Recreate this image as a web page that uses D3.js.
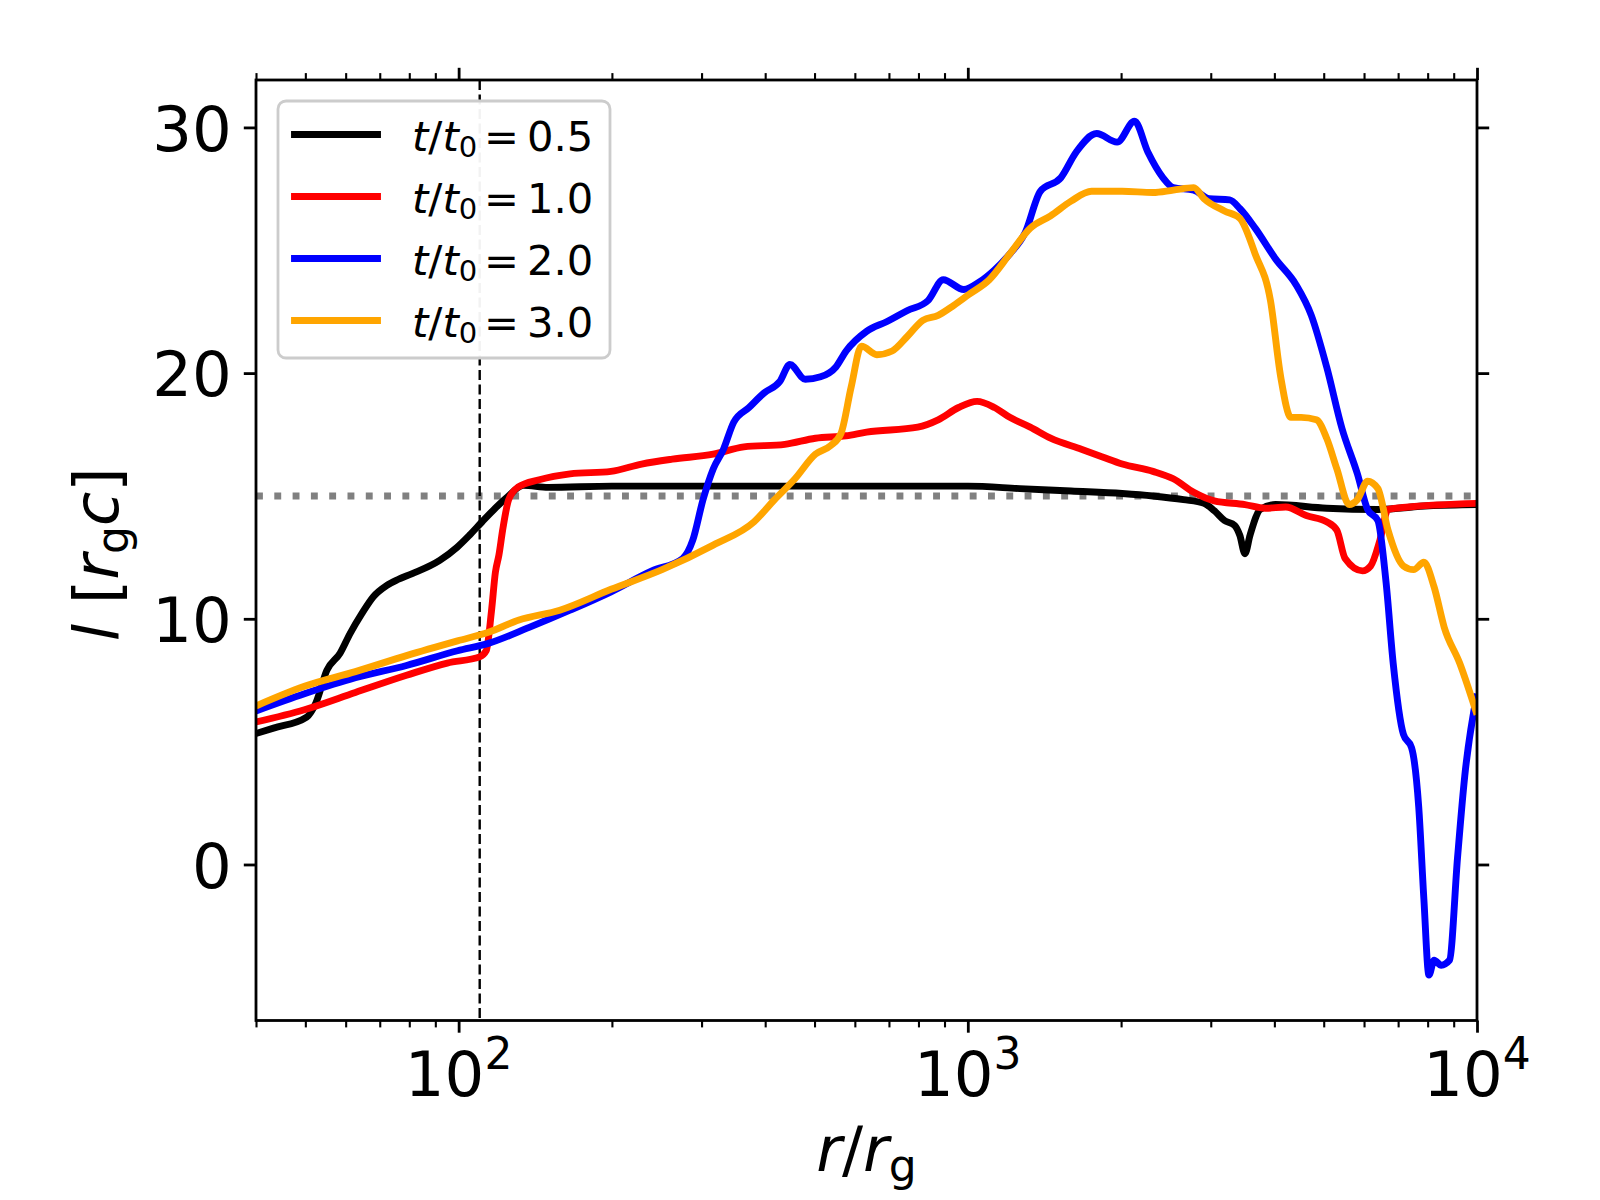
<!DOCTYPE html>
<html>
<head>
<meta charset="utf-8">
<script src="https://cdn.jsdelivr.net/npm/d3@7"></script>
<style>
  body { margin: 0; background: #fff; }
  text { font-family: "DejaVu Sans", sans-serif; }
</style>
</head>
<body>
<div id="chart"></div>
<script>

// angular momentum profiles l(r)
var r05 = [40, 43.3, 50.3, 52.5, 55.1, 58.5, 61.2, 64.5, 68.0, 72.3, 76, 81.1, 91.8, 99.4, 105, 111.1, 118, 124.6, 134, 150,
           200, 316, 500, 800, 1000, 1266, 1595, 2010, 2310, 2652, 2910, 3047, 3192, 3343, 3421, 3502, 3583, 3753, 4021, 5067,
           6387, 8047, 10000];
var l05 = [5.33, 5.55, 6.0, 6.6, 7.9, 8.6, 9.4, 10.2, 10.9, 11.36, 11.6, 11.84, 12.38, 12.92, 13.4, 13.94, 14.5, 14.95, 15.43, 15.35,
           15.4, 15.4, 15.4, 15.4, 15.4, 15.3, 15.2, 15.1, 15.0, 14.85, 14.7, 14.4, 14.0, 13.8, 13.4, 12.65, 13.4, 14.45, 14.65, 14.5,
           14.45, 14.6, 14.65];

var r10 = [40, 49.8, 62.7, 79, 95, 110, 113.3, 116, 118.1, 120, 122, 125.4, 130.8, 144, 165.5, 199.2, 228.8, 262.8, 316.2, 363.3,
           437.1, 502.1, 576.8, 632.7, 797.4, 874.5, 959.2, 1042.6, 1128, 1209, 1326, 1454, 1671, 1833, 2010, 2310, 2533, 2778, 3047, 3502,
           3840, 4212, 4620, 5067, 5306, 5508, 5958, 6182, 6447, 6689, 7337, 10000];
var l10 = [5.8, 6.3, 7.0, 7.7, 8.2, 8.45, 8.7, 10.3, 11.9, 12.6, 13.6, 14.85, 15.36, 15.66, 15.9, 16.0, 16.3, 16.5, 16.7, 17.0,
           17.1, 17.35, 17.45, 17.6, 17.8, 18.1, 18.6, 18.85, 18.6, 18.2, 17.8, 17.35, 16.9, 16.6, 16.3, 16.0, 15.7, 15.15, 14.8, 14.65,
           14.5, 14.55, 14.2, 13.95, 13.6, 12.45, 11.95, 12.15, 13.2, 14.45, 14.55, 14.7];

var r20 = [40, 49.8, 62.7, 79, 99.5, 114.4, 137.6, 165.5, 199.2, 239.6, 275.3, 288.3, 302, 316.2, 331.2, 346.9, 371.8, 398.5, 427.1, 447.3,
           479.4, 513.8, 550.8, 576.8, 632.7, 694.1, 761.2, 835.1, 895, 981.7, 1052, 1128, 1209, 1295, 1388, 1523, 1633, 1791, 1964, 2125,
           2257, 2418, 2533, 2778, 2977, 3267, 3421, 3667, 4021, 4411, 4727, 5067, 5430, 5822, 6097, 6387, 6627, 6845, 7169, 7439,
           7683, 7864, 8047, 8236, 8505, 8829, 9159, 9461, 10000];
var l20 = [6.25, 6.95, 7.6, 8.1, 8.7, 9.0, 9.65, 10.35, 11.1, 11.95, 12.45, 13.2, 14.85, 16.1, 16.9, 18.0, 18.6, 19.2, 19.65, 20.35,
           19.75, 19.85, 20.25, 20.9, 21.7, 22.1, 22.55, 22.95, 23.8, 23.4, 23.7, 24.2, 24.85, 25.7, 27.4, 27.95, 29.0, 29.75, 29.4, 30.25,
           29.0, 27.95, 27.55, 27.45, 27.1, 27.05, 26.7, 25.9, 24.65, 23.6, 22.35, 20.25, 17.75, 15.9, 14.45, 14.0, 11.5, 8.2, 5.3, 4.75,
           2.35, -1.4, -4.5, -3.9, -4.1, -3.9, 0.3, 3.6, 6.95];

var r30 = [40, 49.8, 62.7, 79, 99.5, 114.4, 131.4, 158, 199.2, 250.9, 316.2, 380.5, 417.4, 457.7, 502.1, 538.1, 563.6, 590.3, 618.3, 662.7,
           710.3, 761.2, 815.9, 874.5, 937.3, 1004.6, 1102, 1209, 1326, 1454, 1595, 1750, 2010, 2310, 2533, 2778, 2910, 3192, 3421, 3667,
           3930, 4116, 4310, 4514, 4837, 5067, 5306, 5610, 5822, 6097, 6387, 6689, 7169, 7508, 7864, 8236, 8624, 9245, 10000];
var l30 = [6.45, 7.25, 7.85, 8.5, 9.1, 9.45, 9.95, 10.35, 11.2, 12.0, 13.0, 13.95, 14.85, 15.7, 16.7, 17.05, 17.55, 19.45, 21.1, 20.75,
           20.9, 21.5, 22.15, 22.35, 22.75, 23.2, 23.8, 24.85, 25.9, 26.4, 27.0, 27.4, 27.4, 27.35, 27.45, 27.55, 27.1, 26.6, 26.3, 24.85,
           22.95, 19.85, 18.2, 18.2, 18.1, 17.35, 16.1, 14.65, 14.85, 15.6, 15.3, 13.6, 12.15, 12.0, 12.3, 11.3, 9.65, 8.2, 6.1];

var times = ["0.5", "1.0", "2.0", "3.0"];
var colors = ["black", "red", "blue", "orange"];
var seriesR = [r05, r10, r20, r30];
var seriesL = [l05, l10, l20, l30];

var xMajor = [100, 1000, 10000];
var xMajorExp = ["2", "3", "4"];
var xMinor = [40, 50, 60, 70, 80, 90, 200, 300, 400, 500, 600, 700, 800, 900,
              2000, 3000, 4000, 5000, 6000, 7000, 8000, 9000];
var yTicks = [0, 10, 20, 30];

var lKep = 15;      // horizontal dotted line
var rMark = 110;    // vertical dashed line

var margin = {top: 80, right: 123, bottom: 179.5, left: 256},
    W = 1600, H = 1200,
    width = W - margin.left - margin.right,
    height = H - margin.top - margin.bottom;

var svg = d3.select("#chart").append("svg")
    .attr("width", W)
    .attr("height", H)
  .append("g")
    .attr("transform", "translate(" + margin.left + "," + margin.top + ")");

var x = d3.scaleLog().domain([40, 10000]).range([0, width]),
    y = d3.scaleLinear().domain([-6.35, 31.93]).range([height, 0]);

svg.append("clipPath").attr("id", "clip")
  .append("rect").attr("width", width).attr("height", height);

var plot = svg.append("g").attr("clip-path", "url(#clip)");

// reference lines
plot.append("line")
    .attr("x1", 0).attr("x2", width)
    .attr("y1", y(lKep)).attr("y2", y(lKep))
    .attr("stroke", "gray")
    .attr("stroke-width", 6.9)
    .attr("stroke-dasharray", "6.9,11.4");

plot.append("line")
    .attr("x1", x(rMark)).attr("x2", x(rMark))
    .attr("y1", 0).attr("y2", height)
    .attr("stroke", "black")
    .attr("stroke-width", 2.4)
    .attr("stroke-dasharray", "10,4.5");

var line = d3.line()
    .x(function(d) { return x(d[0]); })
    .y(function(d) { return y(d[1]); })
    .curve(d3.curveMonotoneX);

seriesR.forEach(function(rs, i) {
  var pts = rs.map(function(r, j) { return [r, seriesL[i][j]]; });
  plot.append("path")
      .datum(pts)
      .attr("fill", "none")
      .attr("stroke", colors[i])
      .attr("stroke-width", 6.9)
      .attr("stroke-linejoin", "round")
      .attr("d", line);
});

// ticks, all four sides, pointing out
function styleTicks(g, w) {
  g.select(".domain").remove();
  g.selectAll(".tick line").attr("stroke", "black").attr("stroke-width", w);
  g.selectAll(".tick text").remove();
}

svg.append("g").attr("transform", "translate(0," + height + ")")
    .call(d3.axisBottom(x).tickValues(xMinor).tickSize(6.9).tickFormat(""))
    .call(styleTicks, 2.1);
svg.append("g").attr("transform", "translate(0," + height + ")")
    .call(d3.axisBottom(x).tickValues(xMajor).tickSize(12.2).tickFormat(""))
    .call(styleTicks, 2.8);
svg.append("g")
    .call(d3.axisTop(x).tickValues(xMinor).tickSize(6.9).tickFormat(""))
    .call(styleTicks, 2.1);
svg.append("g")
    .call(d3.axisTop(x).tickValues(xMajor).tickSize(12.2).tickFormat(""))
    .call(styleTicks, 2.8);
svg.append("g").attr("transform", "translate(" + width + ",0)")
    .call(d3.axisRight(y).tickValues(yTicks).tickSize(12.2).tickFormat(""))
    .call(styleTicks, 2.8);

var yAxis = svg.append("g")
    .call(d3.axisLeft(y).tickValues(yTicks).tickSize(12.2).tickPadding(12));
yAxis.select(".domain").remove();
yAxis.selectAll(".tick line").attr("stroke", "black").attr("stroke-width", 2.8);
yAxis.selectAll(".tick text")
    .attr("font-family", "DejaVu Sans")
    .attr("font-size", "62.5px")
    .attr("fill", "black")
    .attr("dy", "0.365em");

// x tick labels 10^n
xMajor.forEach(function(v, i) {
  var t = svg.append("text")
      .attr("x", x(v))
      .attr("y", height + 75)
      .attr("text-anchor", "middle")
      .attr("font-size", "62.5px");
  t.append("tspan").text("10");
  t.append("tspan").attr("font-size", "44px").attr("dy", -27).text(xMajorExp[i]);
});

// frame
svg.append("rect")
    .attr("width", width).attr("height", height)
    .attr("fill", "none")
    .attr("stroke", "black")
    .attr("stroke-width", 2.8);

// axis labels
var xl = svg.append("text")
    .attr("x", width / 2)
    .attr("y", height + 150)
    .attr("text-anchor", "middle")
    .attr("font-size", "62.5px");
xl.append("tspan").attr("font-style", "italic").text("r");
xl.append("tspan").text("/");
xl.append("tspan").attr("font-style", "italic").text("r");
xl.append("tspan").attr("font-size", "44px").attr("dy", 10).text("g");

var yl = svg.append("text")
    .attr("transform", "translate(" + (118 - margin.left) + "," + (height / 2 + 4) + ") rotate(-90)")
    .attr("text-anchor", "middle")
    .attr("font-size", "62.5px");
yl.append("tspan").attr("font-style", "italic").text("l");
yl.append("tspan").text(" [");
yl.append("tspan").attr("font-style", "italic").text("r");
yl.append("tspan").attr("font-size", "44px").attr("dy", 10).text("g");
yl.append("tspan").attr("font-style", "italic").attr("dy", -10).text("c");
yl.append("tspan").text("]");

// legend
var lg = svg.append("g").attr("transform", "translate(" + (278 - margin.left) + "," + (101 - margin.top) + ")");
lg.append("rect")
    .attr("width", 332).attr("height", 257)
    .attr("rx", 8).attr("ry", 8)
    .attr("fill", "white").attr("fill-opacity", 0.95)
    .attr("stroke", "#cccccc")
    .attr("stroke-width", 2.8);

times.forEach(function(tt, i) {
  var cy = 33.5 + i * 62;
  lg.append("line")
      .attr("x1", 16.5).attr("x2", 99.5)
      .attr("y1", cy).attr("y2", cy)
      .attr("stroke", colors[i])
      .attr("stroke-width", 6.9)
      .attr("stroke-linecap", "square");
  var t = lg.append("text")
      .attr("x", 134)
      .attr("y", cy + 16)
      .attr("font-size", "41.7px");
  t.append("tspan").attr("font-style", "italic").text("t");
  t.append("tspan").text("/");
  t.append("tspan").attr("font-style", "italic").text("t");
  t.append("tspan").attr("font-size", "29px").attr("dy", 6).text("0");
  t.append("tspan").attr("x", 206).attr("dy", -6).text("=");
  t.append("tspan").attr("x", 249).text(tt);
});

</script>
</body>
</html>
